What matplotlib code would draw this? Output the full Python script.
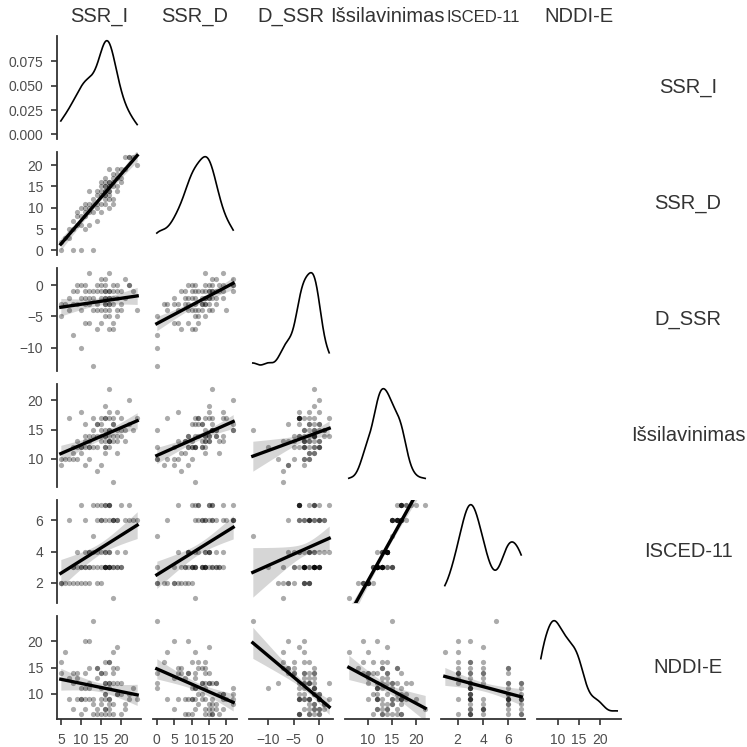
import numpy as np
import matplotlib
matplotlib.use("Agg")
import matplotlib.pyplot as plt

plt.rcParams["font.family"] = ["Liberation Sans", "DejaVu Sans"]

var_names = ["SSR_I", "SSR_D", "D_SSR", "Išsilavinimas", "ISCED-11", "NDDI-E"]

# one entry per respondent (same order in every list)
ssr_i = [5, 5, 16, 6, 7, 7, 8, 8, 8, 9, 9, 9, 10, 10, 10, 10, 11, 11, 11, 11,
         11, 12, 12, 12, 12, 12, 13, 13, 13, 13, 17, 14, 17, 14, 14, 14, 14, 15, 15, 16,
         15, 15, 15, 15, 16, 16, 16, 16, 16, 16, 16, 16, 17, 17, 17, 17, 17, 17, 17, 17,
         18, 18, 18, 18, 18, 18, 19, 19, 19, 19, 19, 20, 20, 20, 21, 21, 22, 22, 23, 24]
ssr_d = [2, 0, 14, 3, 5, 3, 0, 7, 5, 6, 8, 9, 0, 6, 10, 8, 9, 10, 5, 11,
         8, 11, 9, 6, 10, 14, 0, 11, 12, 9, 14, 13, 15, 10, 14, 11, 7, 14, 13, 13,
         9, 15, 11, 16, 15, 13, 14, 11, 16, 12, 15, 17, 16, 15, 10, 14, 19, 13, 16, 12,
         16, 17, 15, 18, 11, 12, 15, 17, 19, 18, 14, 17, 19, 16, 22, 19, 22, 22, 22, 20]
d_ssr = [-3, -5, -2, -3, -2, -4, -8, -1, -3, -3, -1, 0, -10, -4, 0, -2, -2, -1, -6, 0,
         -3, -1, -3, -6, -2, 2, -13, -2, -1, -4, -3, -1, -2, -4, 0, -3, -7, -1, -2, -3,
         -6, 0, -4, 1, -1, -3, -2, -5, 0, -4, -1, 1, -1, -2, -7, -3, 2, -4, -1, -5,
         -2, -1, -3, 0, -7, -6, -4, -2, 0, -1, -5, -3, -1, -4, 1, -2, 0, 0, -1, -4]
educ = [9, 10, 11, 10, 10, 17, 10, 11, 12, 10, 13, 12, 12, 18, 12, 11, 14, 12, 9, 16,
        13, 12, 12, 13, 10, 14, 15, 12, 17, 14, 13, 16, 13, 16, 12, 14, 8, 14, 16, 12,
        9, 13, 17, 15, 14, 13, 17, 12, 15, 17, 19, 14, 15, 18, 13, 15, 17, 12, 22, 14,
        16, 14, 17, 13, 6, 16, 14, 15, 18, 11, 13, 15, 14, 17, 15, 13, 16, 20, 15, 17]
isced = [2, 2, 3, 2, 2, 6, 2, 3, 3, 2, 3, 4, 3, 7, 3, 2, 4, 3, 2, 6,
         3, 3, 3, 4, 2, 4, 5, 3, 7, 4, 3, 6, 4, 7, 3, 4, 2, 4, 6, 3,
         2, 3, 7, 6, 4, 3, 6, 3, 3, 7, 7, 4, 3, 7, 3, 6, 7, 3, 7, 4,
         6, 3, 6, 3, 1, 6, 4, 6, 6, 3, 3, 3, 3, 7, 6, 4, 6, 7, 6, 6]
nddi = [16, 14, 16, 18, 13, 9, 12, 14, 7, 14, 13, 9, 11, 9, 9, 6, 14, 11, 20, 7,
        9, 11, 20, 15, 9, 12, 24, 9, 8, 6, 11, 15, 8, 6, 7, 13, 15, 14, 9, 10,
        14, 6, 11, 8, 7, 12, 6, 14, 9, 10, 12, 7, 6, 12, 16, 9, 9, 12, 7, 16,
        12, 8, 14, 6, 18, 15, 19, 12, 10, 10, 15, 12, 10, 6, 8, 7, 10, 9, 11, 9]

columns = [ssr_i, ssr_d, d_ssr, educ, isced, nddi]

x_ticks = [[5, 10, 15, 20], [0, 5, 10, 15, 20], [-10, -5, 0], [10, 15, 20], [2, 4, 6], [10, 15, 20]]
y_ticks = [[0.0, 0.025, 0.05, 0.075], [0, 5, 10, 15, 20], [-10, -5, 0], [10, 15, 20], [2, 4, 6], [10, 15, 20]]

FIG_PX = 747
INK = "#333333"
TICK_TXT = "#4d4d4d"


def padded(v):
    lo, hi = min(v), max(v)
    pad = 0.05 * (hi - lo)
    return lo - pad, hi + pad


def density(v):
    # gaussian kde with R's bw.nrd0 bandwidth, evaluated over the data range
    v = np.asarray(v, float)
    n = len(v)
    q75, q25 = np.percentile(v, [75, 25])
    bw = 0.9 * min(v.std(ddof=1), (q75 - q25) / 1.34) * n ** -0.2
    grid = np.linspace(v.min(), v.max(), 400)
    z = (grid[:, None] - v[None, :]) / bw
    dens = np.exp(-0.5 * z ** 2).sum(axis=1) / (n * bw * np.sqrt(2 * np.pi))
    return grid, dens


def lm_band(x, y):
    x = np.asarray(x, float)
    y = np.asarray(y, float)
    n = len(x)
    b1, b0 = np.polyfit(x, y, 1)
    grid = np.linspace(x.min(), x.max(), 100)
    fit = b0 + b1 * grid
    resid = y - (b0 + b1 * x)
    s = np.sqrt((resid ** 2).sum() / (n - 2))
    sxx = ((x - x.mean()) ** 2).sum()
    se = s * np.sqrt(1.0 / n + (grid - x.mean()) ** 2 / sxx)
    t = 1.99
    return grid, fit, fit - t * se, fit + t * se


fig = plt.figure(figsize=(FIG_PX / 100, FIG_PX / 100), dpi=100)

n_var = len(columns)
left0, col_pitch, ax_w = 57, 96, 84
top0, row_pitch, ax_h = 36, 116, 103

for r in range(n_var):
    for c in range(r + 1):
        left = (left0 + c * col_pitch) / FIG_PX
        bottom = 1 - (top0 + r * row_pitch + ax_h) / FIG_PX
        ax = fig.add_axes([left, bottom, ax_w / FIG_PX, ax_h / FIG_PX])
        xv = columns[c]
        yv = columns[r]
        ax.set_xlim(*padded(xv))

        if r == c:
            gx, gy = density(xv)
            ax.plot(gx, gy, color="black", lw=1.2)
            top = gy.max()
            ax.set_ylim(-0.05 * top, top * 1.05)
        else:
            gx, fit, lo, hi = lm_band(xv, yv)
            ax.fill_between(gx, lo, hi, color="#999999", alpha=0.4, lw=0, zorder=1)
            ax.scatter(xv, yv, s=14, color="black", alpha=0.33, lw=0, zorder=2)
            ax.plot(gx, fit, color="black", lw=2.4, zorder=3)
            ax.set_ylim(*padded(yv))

        for side in ["top", "right", "left", "bottom"]:
            ax.spines[side].set_visible(False)

        ax.tick_params(length=4.5, width=1.2, color=INK, labelsize=10,
                       labelcolor=TICK_TXT, pad=5.5)

        if c == 0:
            ax.spines["left"].set_visible(True)
            ax.spines["left"].set_color(INK)
            ax.spines["left"].set_linewidth(1.3)
            ax.set_yticks(y_ticks[r])
            if r == 0:
                ax.set_yticklabels([f"{t:.3f}" for t in y_ticks[r]])
        else:
            ax.set_yticks([])

        if r == n_var - 1:
            ax.spines["bottom"].set_visible(True)
            ax.spines["bottom"].set_color(INK)
            ax.spines["bottom"].set_linewidth(1.3)
            ax.set_xticks(x_ticks[c])
        else:
            ax.set_xticks([])

# column strip labels on top, row labels on the right
for i, name in enumerate(var_names):
    cx = (left0 + i * col_pitch + ax_w / 2) / FIG_PX
    size = 12 if name == "ISCED-11" else 14.5
    fig.text(cx, 1 - 17 / FIG_PX, name, ha="center", va="center",
             fontsize=size, color=INK)
    cy = 1 - (top0 + i * row_pitch + ax_h / 2) / FIG_PX
    fig.text(688 / FIG_PX, cy, name, ha="center", va="center",
             fontsize=14.5, color=INK)

fig.savefig("out.png", dpi=100, facecolor="white")
